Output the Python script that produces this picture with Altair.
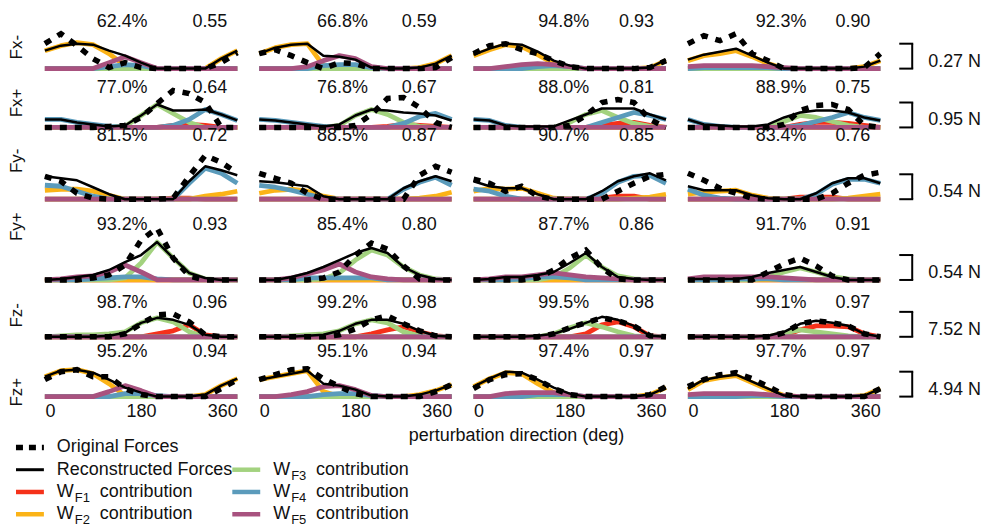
import altair as alt
import pandas as pd

FONT = "Liberation Sans"
TXT = "#111111"
FS = 18

DEG = [0, 30, 60, 90, 120, 150, 180, 210, 240, 270, 300, 330, 360]
ROW_NAMES = ["Fx-", "Fx+", "Fy-", "Fy+", "Fz-", "Fz+"]
SCALE_N = [0.27, 0.95, 0.54, 0.54, 7.52, 4.94]
BAR_UNITS = 25  # values below are in 1/25 of the row's scale bar

PCT = [[62.4, 66.8, 94.8, 92.3], [77.0, 76.8, 88.0, 88.9], [81.5, 88.5, 90.7, 83.4],
       [93.2, 85.4, 87.7, 91.7], [98.7, 99.2, 99.5, 99.1], [95.2, 95.1, 97.4, 97.7]]
RVAL = [[0.55, 0.59, 0.93, 0.90], [0.64, 0.67, 0.81, 0.75], [0.72, 0.87, 0.85, 0.76],
        [0.93, 0.80, 0.86, 0.91], [0.96, 0.98, 0.98, 0.97], [0.94, 0.94, 0.97, 0.97]]

Z13 = [0, 0, 0, 0, 0, 0, 0, 0, 0, 0, 0, 0, 0]
ZERO4 = [Z13, Z13, Z13, Z13]

# ---------------- Fx- ----------------
FXM_ORIG = [[25, 35, 23, 10, 1, 6, 1, 0, 0, 0, 0, 6, 16],
            [15, 19, 13, 6, 0, 6, 5, 0, 0, 0, 0, 1, 11],
            [15, 23, 25, 19, 15, 8, 2, 0, 0, 0, 0, 1, 8],
            [25, 33, 28, 35, 15, 8, 0, 0, 0, 0, 0, 1, 15]]
FXM_RECON = [[18, 23, 25, 24, 18, 13, 6, 0, 0, 0, 0, 10, 18],
             [15, 21, 24, 25, 13, 12, 9, 1, 0, 0, 1, 5, 13],
             [14, 20, 25, 24, 17, 8, 3, 0, 0, 0, 0, 1, 9],
             [9, 14, 17, 20, 13, 6, 0, 0, 0, 0, 0, 2, 8]]
FXM_F2 = [[18, 23, 26, 24, 15, 3, 0, 0, 0, 0, 0, 10, 18],
          [15, 21, 24, 25, 3, 0, 0, 0, 0, 0, 1, 5, 13],
          [13, 19, 24, 22, 14, 5, 1, 0, 0, 0, 0, 1, 8],
          [8, 13, 15, 18, 12, 5, 0, 0, 0, 0, 0, 2, 8]]
FXM_F4 = [[0, 0, 0, 0, 2, 4, 3, 0, 0, 0, 0, 0, 0],
          [0, 0, 0, 0, 3, 4, 4, 1, 0, 0, 0, 0, 0],
          [0, 0, 0, 0, 2, 3, 2, 0, 0, 0, 0, 0, 0],
          [0, 1, 1, 1, 1, 1, 0, 0, 0, 0, 0, 0, 0]]
FXM_F5 = [[0, 0, 0, 0, 6, 12, 6, 0, 0, 0, 0, 0, 0],
          [0, 0, 0, 2, 8, 13, 10, 2, 0, 0, 0, 0, 0],
          [0, 0, 2, 4, 5, 4, 2, 0, 0, 0, 0, 0, 0],
          [2, 3, 3, 3, 3, 2, 1, 0, 0, 0, 0, 0, 0]]

# ---------------- Fx+ ----------------
FXP_ORIG = [[0, 0, 0, 0, 1, 2, 10, 24, 37, 34, 25, 0, 0],
            [0, 0, 0, 0, 0, 0, 2, 13, 29, 30, 20, 5, 0],
            [0, 0, 0, 0, 0, 0, 2, 12, 25, 28, 25, 8, 0],
            [0, 0, 0, 0, 0, 0, 3, 17, 22, 23, 18, 2, 0]]
FXP_RECON = [[8, 8, 5, 3, 1, 2, 12, 23, 17, 17, 18, 13, 7],
             [8, 7, 5, 3, 1, 3, 12, 18, 17, 15, 14, 12, 7],
             [8, 7, 2, 1, 1, 1, 7, 13, 19, 19, 19, 13, 8],
             [8, 3, 2, 1, 1, 3, 10, 15, 17, 17, 15, 10, 7]]
FXP_F1 = [[0, 0, 0, 0, 0, 0, 0, 0, 2, 3, 2, 0, 0],
          [0, 0, 0, 0, 0, 0, 0, 0, 1, 3, 2, 1, 0],
          [0, 0, 0, 0, 0, 0, 0, 0, 2, 4, 5, 2, 0],
          [0, 0, 0, 0, 0, 0, 0, 3, 5, 5, 4, 2, 0]]
FXP_F3 = [[0, 0, 0, 0, 0, 1, 12, 23, 14, 5, 0, 0, 0],
          [0, 0, 0, 0, 0, 2, 12, 18, 13, 5, 1, 0, 0],
          [0, 0, 0, 0, 0, 0, 5, 13, 17, 10, 4, 1, 0],
          [0, 0, 0, 0, 0, 0, 6, 12, 10, 6, 2, 0, 0]]
FXP_F4 = [[8, 8, 5, 3, 1, 0, 0, 0, 2, 8, 18, 13, 7],
          [8, 7, 5, 3, 1, 0, 0, 0, 0, 4, 11, 14, 8],
          [8, 7, 2, 0, 0, 0, 0, 0, 5, 10, 15, 12, 8],
          [8, 3, 1, 0, 0, 0, 0, 2, 6, 10, 15, 10, 7]]

# ---------------- Fy- ----------------
FYM_ORIG = [[23, 18, 6, 1, 0, 0, 0, 0, 1, 23, 44, 37, 26],
            [26, 21, 16, 6, 0, 0, 0, 0, 0, 0, 24, 33, 27],
            [20, 16, 8, 13, 3, 0, 0, 0, 0, 8, 16, 23, 25],
            [26, 19, 11, 6, 1, 0, 0, 0, 0, 6, 16, 24, 27]]
FYM_RECON = [[23, 21, 19, 12, 5, 0, 0, 0, 0, 18, 33, 29, 24],
             [18, 17, 15, 13, 3, 0, 0, 0, 0, 11, 18, 23, 18],
             [18, 13, 11, 11, 5, 0, 0, 0, 8, 18, 23, 26, 19],
             [13, 9, 9, 9, 4, 1, 0, 0, 6, 16, 21, 21, 16]]
FYM_F1 = [[0, 0, 0, 0, 0, 0, 0, 0, 1, 1, 0, 0, 0],
          [0, 0, 0, 0, 0, 0, 0, 0, 0, 0, 0, 0, 0],
          [0, 0, 0, 0, 0, 0, 0, 0, 1, 3, 3, 0, 0],
          [0, 0, 0, 0, 0, 0, 0, 2, 2, 2, 0, 0, 0]]
FYM_F2 = [[9, 10, 10, 8, 4, 0, 0, 0, 0, 0, 3, 5, 8],
          [6, 9, 10, 8, 3, 0, 0, 0, 0, 0, 1, 3, 7],
          [8, 11, 10, 11, 6, 1, 0, 0, 0, 0, 1, 2, 5],
          [5, 7, 8, 9, 4, 1, 0, 0, 0, 0, 1, 3, 5]]
FYM_F4 = [[14, 13, 8, 3, 0, 0, 0, 0, 0, 16, 31, 26, 16],
          [14, 12, 9, 5, 1, 0, 0, 0, 0, 10, 17, 22, 14],
          [10, 8, 3, 0, 0, 0, 0, 0, 6, 17, 23, 24, 16],
          [10, 4, 1, 0, 0, 0, 0, 0, 5, 15, 20, 20, 16]]

# ---------------- Fy+ ----------------
FYP_ORIG = [[0, 0, 0, 2, 5, 15, 40, 52, 22, 4, 0, 0, 0],
            [0, 0, 0, 0, 2, 8, 25, 37, 31, 14, 1, 0, 0],
            [0, 0, 0, 0, 2, 10, 22, 30, 12, 1, 0, 0, 0],
            [0, 0, 0, 0, 0, 8, 16, 22, 14, 4, 0, 0, 0]]
FYP_RECON = [[0, 1, 3, 5, 10, 18, 25, 38, 22, 7, 2, 0, 0],
             [0, 0, 3, 7, 13, 20, 27, 32, 27, 13, 5, 1, 0],
             [0, 1, 3, 3, 5, 8, 17, 27, 13, 3, 1, 0, 0],
             [1, 1, 1, 1, 3, 7, 10, 13, 8, 3, 0, 0, 0]]
FYP_F3 = [[0, 0, 0, 0, 0, 2, 17, 38, 22, 7, 1, 0, 0],
          [0, 0, 0, 0, 1, 7, 20, 30, 25, 13, 5, 1, 0],
          [0, 0, 0, 0, 0, 3, 12, 25, 13, 4, 1, 0, 0],
          [0, 0, 0, 0, 0, 3, 8, 12, 8, 3, 1, 0, 0]]
FYP_F4 = [[0, 0, 0, 1, 2, 3, 3, 1, 0, 0, 0, 0, 0],
          [0, 0, 0, 2, 2, 2, 2, 2, 0, 0, 0, 0, 0],
          [0, 0, 0, 1, 3, 3, 2, 0, 0, 0, 0, 0, 0],
          [0, 0, 0, 1, 1, 1, 0, 0, 0, 0, 0, 0, 0]]
FYP_F5 = [[0, 1, 3, 4, 8, 15, 8, 0, 0, 0, 0, 0, 0],
          [0, 0, 2, 6, 10, 16, 8, 3, 1, 0, 0, 0, 0],
          [0, 1, 3, 3, 5, 7, 5, 3, 2, 1, 0, 0, 0],
          [1, 3, 3, 3, 3, 3, 2, 1, 0, 0, 0, 0, 0]]

# ---------------- Fz- ----------------
FZM_ORIG = [[0, 0, 0, 0, 0, 3, 13, 22, 23, 15, 2, 0, 0],
            [0, 0, 0, 0, 0, 2, 8, 17, 21, 13, 6, 1, 0],
            [0, 0, 0, 0, 0, 3, 9, 14, 19, 16, 11, 1, 0],
            [0, 0, 0, 0, 0, 0, 4, 13, 16, 14, 11, 3, 0]]
FZM_RECON = [[0, 0, 0, 0, 1, 4, 14, 19, 17, 12, 2, 0, 0],
             [0, 0, 0, 1, 2, 6, 13, 17, 17, 13, 6, 1, 0],
             [0, 0, 0, 0, 1, 3, 8, 14, 20, 17, 11, 1, 0],
             [0, 0, 0, 0, 0, 1, 5, 13, 16, 14, 11, 3, 0]]
FZM_F1 = [[0, 0, 0, 0, 0, 0, 0, 3, 6, 12, 2, 0, 0],
          [0, 0, 0, 0, 0, 0, 0, 3, 7, 10, 5, 1, 0],
          [0, 0, 0, 0, 0, 0, 0, 3, 12, 15, 10, 1, 0],
          [0, 0, 0, 0, 0, 0, 1, 7, 11, 11, 10, 3, 0]]
FZM_F3 = [[0, 1, 2, 2, 3, 5, 14, 19, 15, 5, 0, 0, 0],
          [0, 0, 1, 2, 3, 6, 13, 17, 14, 5, 1, 0, 0],
          [0, 0, 0, 0, 0, 3, 9, 14, 10, 5, 1, 0, 0],
          [0, 0, 0, 0, 0, 0, 4, 7, 5, 3, 1, 0, 0]]

# ---------------- Fz+ ----------------
FZP_ORIG = [[17, 25, 27, 20, 20, 8, 2, 0, 0, 0, 0, 8, 17],
            [17, 22, 27, 28, 18, 10, 3, 0, 0, 0, 0, 5, 12],
            [8, 17, 22, 23, 17, 8, 2, 0, 0, 0, 0, 2, 10],
            [10, 17, 22, 24, 18, 10, 2, 0, 0, 0, 0, 0, 8]]
FZP_RECON = [[20, 26, 27, 24, 17, 9, 4, 0, 0, 0, 2, 11, 18],
             [17, 20, 23, 26, 13, 11, 7, 1, 0, 0, 2, 6, 12],
             [10, 18, 25, 24, 17, 9, 3, 0, 0, 0, 0, 2, 9],
             [8, 17, 20, 22, 15, 8, 1, 0, 0, 0, 0, 1, 8]]
FZP_F2 = [[20, 26, 27, 23, 13, 1, 0, 0, 0, 0, 2, 11, 18],
          [17, 20, 23, 26, 5, 0, 0, 0, 0, 0, 2, 6, 12],
          [10, 18, 24, 23, 13, 4, 1, 0, 0, 0, 0, 2, 9],
          [7, 16, 19, 21, 14, 7, 1, 0, 0, 0, 0, 1, 8]]
FZP_F4 = [[0, 0, 0, 0, 0, 3, 3, 1, 0, 0, 0, 0, 0],
          [0, 0, 0, 0, 2, 3, 3, 1, 0, 0, 0, 0, 0],
          [0, 0, 0, 0, 2, 2, 2, 0, 0, 0, 0, 0, 0],
          [0, 0, 0, 0, 1, 1, 0, 0, 0, 0, 0, 0, 0]]
FZP_F5 = [[0, 0, 0, 0, 5, 11, 6, 0, 0, 0, 0, 0, 0],
          [0, 0, 2, 5, 10, 11, 7, 1, 0, 0, 0, 0, 0],
          [0, 0, 3, 4, 4, 4, 2, 0, 0, 0, 0, 0, 0],
          [2, 3, 3, 3, 3, 2, 1, 0, 0, 0, 0, 0, 0]]

ROW_DATA = [
    {"orig": FXM_ORIG, "recon": FXM_RECON, "F1": ZERO4, "F2": FXM_F2, "F3": ZERO4, "F4": FXM_F4, "F5": FXM_F5},
    {"orig": FXP_ORIG, "recon": FXP_RECON, "F1": FXP_F1, "F2": ZERO4, "F3": FXP_F3, "F4": FXP_F4, "F5": ZERO4},
    {"orig": FYM_ORIG, "recon": FYM_RECON, "F1": FYM_F1, "F2": FYM_F2, "F3": ZERO4, "F4": FYM_F4, "F5": ZERO4},
    {"orig": FYP_ORIG, "recon": FYP_RECON, "F1": ZERO4, "F2": ZERO4, "F3": FYP_F3, "F4": FYP_F4, "F5": FYP_F5},
    {"orig": FZM_ORIG, "recon": FZM_RECON, "F1": FZM_F1, "F2": ZERO4, "F3": FZM_F3, "F4": ZERO4, "F5": ZERO4},
    {"orig": FZP_ORIG, "recon": FZP_RECON, "F1": ZERO4, "F2": FZP_F2, "F3": ZERO4, "F4": FZP_F4, "F5": FZP_F5},
]

SERIES = ["F1", "F2", "F3", "F4", "F5"]
COLORS = ["#f5311a", "#fbb317", "#a3d27f", "#5b9bbb", "#a8527f"]

LEG_KEY = ["orig", "recon", "F1", "F2", "F3", "F4", "F5"]
LEG_MAIN = ["Original Forces", "Reconstructed Forces", "W", "W", "W", "W", "W"]
LEG_SUB = ["", "", "F1", "F2", "F3", "F4", "F5"]
LEG_REST = ["", "", "contribution", "contribution", "contribution", "contribution", " contribution"]
LEG_COL = [0, 0, 0, 0, 1, 1, 1]
LEG_ROW = [0, 1, 2, 3, 1, 2, 3]
XTITLE = "perturbation direction (deg)"

# ---------------- layout ----------------
PANEL_W = 193
COL_SP = 22
BAR_W = 80
ROW_H = [63, 59, 72, 81, 57, 60]
BASE_OFF = 3
TEXT_Y = [13, 16, 6, 23, 20, 12]
TITLE_Y = [38, 31, 30, 24, 32, 52]
PCT_X = [103, 109, 116, 119]
R_X = [183, 178, 181, 183]


def yscale(r):
    s = SCALE_N[r] / BAR_UNITS
    return alt.Scale(domain=[-BASE_OFF * s, (ROW_H[r] - BASE_OFF) * s], nice=False, zero=False)


def make_legend():
    # drawn inside the bottom-left panel, below its plot area
    ldf = pd.DataFrame({"key": LEG_KEY, "main": LEG_MAIN, "sub": LEG_SUB, "rest": LEG_REST,
                        "col": LEG_COL, "row": LEG_ROW})
    lx = alt.X("col:Q", scale=alt.Scale(domain=[0, 1], range=[-29, 188]), axis=None)
    ly = alt.Y("row:Q", scale=alt.Scale(domain=[0, 3], range=[108, 175]), axis=None)
    b = alt.Chart(ldf)
    dash = b.transform_filter(alt.datum.key == "orig").mark_rule(
        color="black", strokeWidth=5.5, strokeDash=[7, 6], x2Offset=28).encode(x=lx, x2=alt.X2("col"), y=ly)
    rec = b.transform_filter(alt.datum.key == "recon").mark_rule(
        color="black", strokeWidth=3, x2Offset=28).encode(x=lx, x2=alt.X2("col"), y=ly)
    colr = b.transform_filter(alt.FieldOneOfPredicate(field="key", oneOf=SERIES)).mark_rule(
        strokeWidth=4.5, x2Offset=28).encode(
        x=lx, x2=alt.X2("col"), y=ly,
        color=alt.Color("key:N", scale=alt.Scale(domain=SERIES, range=COLORS), legend=None))
    main = b.mark_text(align="left", baseline="middle", dx=41, fontSize=FS, font=FONT, color=TXT).encode(
        x=lx, y=ly, text="main:N")
    sub = b.mark_text(align="left", baseline="middle", dx=59, dy=6, fontSize=13, font=FONT, color=TXT).encode(
        x=lx, y=ly, text="sub:N")
    rest = b.mark_text(align="left", baseline="middle", dx=84, fontSize=FS, font=FONT, color=TXT).encode(
        x=lx, y=ly, text="rest:N")
    xt = alt.Chart(pd.DataFrame({"t": [XTITLE]})).mark_text(
        align="center", baseline="middle", fontSize=FS, font=FONT, color=TXT).encode(
        x=alt.value(473), y=alt.value(97), text="t:N")
    return alt.layer(dash, rec, colr, main, sub, rest, xt)


def make_panel(r, c):
    s = SCALE_N[r] / BAR_UNITS
    d = ROW_DATA[r]
    recs = []
    for key in SERIES + ["recon", "orig"]:
        for deg, v in zip(DEG, d[key][c]):
            recs.append({"deg": deg, "val": v * s, "series": key})
    df = pd.DataFrame(recs)
    if r == 5:
        xaxis = alt.Axis(values=[0, 180, 360], labelFlush=True, ticks=False, tickSize=0,
                         domain=False, grid=False, labelFontSize=FS, labelFont=FONT,
                         labelColor=TXT, labelPadding=3, labelAngle=0, title=None)
    else:
        xaxis = None
    x = alt.X("deg:Q", scale=alt.Scale(domain=[0, 360], nice=False), axis=xaxis)
    if c == 0:
        yaxis = alt.Axis(title=ROW_NAMES[r], labels=False, ticks=False, domain=False, grid=False,
                         titleFontSize=17, titleFont=FONT, titleFontWeight="normal",
                         titleColor=TXT, titlePadding=19, titleY=TITLE_Y[r])
    else:
        yaxis = None
    y = alt.Y("val:Q", scale=yscale(r), axis=yaxis)
    base = alt.Chart(df)
    layers = []
    for key, col in zip(SERIES, COLORS):
        layers.append(base.transform_filter(alt.datum.series == key)
                      .mark_line(color=col, strokeWidth=4.8, strokeJoin="round")
                      .encode(x=x, y=y))
    layers.append(base.transform_filter(alt.datum.series == "recon")
                  .mark_line(color="black", strokeWidth=2.5, strokeJoin="round")
                  .encode(x=x, y=y))
    layers.append(base.transform_filter(alt.datum.series == "orig")
                  .mark_line(color="black", strokeWidth=5.5, strokeDash=[7, 8])
                  .encode(x=x, y=y))
    tdf = pd.DataFrame({"pct": [f"{PCT[r][c]:.1f}%"], "rv": [f"{RVAL[r][c]:.2f}"]})
    t = alt.Chart(tdf)
    layers.append(t.mark_text(align="right", baseline="middle", fontSize=FS, font=FONT, color=TXT)
                  .encode(x=alt.value(PCT_X[c]), y=alt.value(TEXT_Y[r]), text="pct:N"))
    layers.append(t.mark_text(align="right", baseline="middle", fontSize=FS, font=FONT, color=TXT)
                  .encode(x=alt.value(R_X[c]), y=alt.value(TEXT_Y[r]), text="rv:N"))
    panel = alt.layer(*layers)
    if r == 5 and c == 0:
        panel = alt.layer(panel, make_legend()).resolve_scale(x="independent", y="independent")
    return panel.properties(width=PANEL_W, height=ROW_H[r])


def make_bar(r):
    df = pd.DataFrame({"lo": [0.0], "hi": [SCALE_N[r]], "lab": [f"{SCALE_N[r]:.2f} N"]})
    b = alt.Chart(df)
    ys = yscale(r)
    ylo = alt.Y("lo:Q", scale=ys, axis=None)
    yhi = alt.Y("hi:Q", scale=ys, axis=None)
    vert = b.mark_rule(color="black", strokeWidth=2).encode(x=alt.value(10), y=ylo, y2=alt.Y2("hi"))
    top = b.mark_rule(color="black", strokeWidth=2).encode(x=alt.value(-3), x2=alt.value(11), y=yhi)
    bot = b.mark_rule(color="black", strokeWidth=2).encode(x=alt.value(-3), x2=alt.value(11), y=ylo)
    lab = b.mark_text(align="left", baseline="middle", dy=-7, fontSize=FS, font=FONT, color=TXT).encode(
        x=alt.value(26), y=ylo, text="lab:N")
    return alt.layer(vert, top, bot, lab).properties(width=BAR_W, height=ROW_H[r])


cells = []
for r in range(6):
    cells += [make_panel(r, c) for c in range(4)] + [make_bar(r)]

chart = alt.concat(*cells, columns=5, spacing={"row": 0, "column": COL_SP},
                   bounds="flush", align="each").properties(
    padding=0).configure_view(stroke=None)

chart.save("out.html", embed_options={"renderer": "svg", "actions": False})
